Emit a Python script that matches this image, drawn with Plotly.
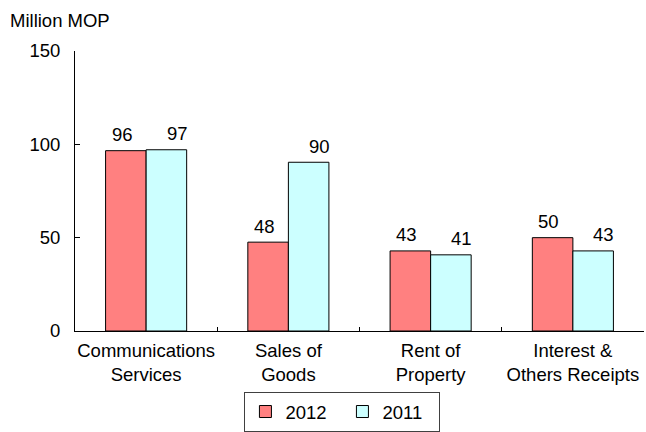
import plotly.graph_objects as go

categories = ["Communications<br>Services", "Sales of<br>Goods", "Rent of<br>Property", "Interest &<br>Others Receipts"]
values_2012 = [96.6, 47.6, 42.9, 50.0]
values_2011 = [97.1, 90.4, 40.8, 42.9]
labels_2012 = ["96", "48", "43", "50"]
labels_2011 = ["97", "90", "41", "43"]

FONT = dict(family="Liberation Sans, Arial, sans-serif", size=18.5, color="black")

fig = go.Figure()
fig.add_trace(go.Bar(
    x=categories, y=values_2012, name="2012",
    marker=dict(color="#FF8080", line=dict(color="black", width=1)),
))
fig.add_trace(go.Bar(
    x=categories, y=values_2011, name="2011",
    marker=dict(color="#CCFFFF", line=dict(color="black", width=1)),
))

# data labels, offset like the original spreadsheet chart
for cat, v, t in zip(categories, values_2012, labels_2012):
    fig.add_annotation(x=cat, y=v, text=t, showarrow=False, xshift=-24, yshift=16,
                       yanchor="middle", font=FONT)
for cat, v, t in zip(categories, values_2011, labels_2011):
    fig.add_annotation(x=cat, y=v, text=t, showarrow=False, xshift=31, yshift=16,
                       yanchor="middle", font=FONT)

fig.add_annotation(text="Million MOP", xref="paper", yref="paper", x=-0.118, y=1.11,
                   xanchor="left", yanchor="middle", showarrow=False, font=FONT)

fig.update_layout(
    width=646, height=432,
    margin=dict(l=75, r=2, t=51, b=101),
    paper_bgcolor="white", plot_bgcolor="white",
    font=FONT,
    barmode="group", bargap=0.43, bargroupgap=0,
    showlegend=True,
    # legend box runs off the bottom edge, as in the original
    legend=dict(orientation="h", x=0.47, xanchor="center",
                yref="container", y=-0.021, yanchor="bottom",
                bordercolor="#404040", borderwidth=1, bgcolor="white", font=FONT,
                itemwidth=30, entrywidth=52),
)
fig.update_xaxes(showline=True, linecolor="black", linewidth=1, ticks="inside",
                 tickson="boundaries", ticklen=4, tickcolor="black", showgrid=False,
                 tickangle=0, automargin=False, ticklabelstandoff=3)
fig.update_yaxes(range=[0, 150], tickvals=[0, 50, 100, 150], showline=True, linecolor="black",
                 linewidth=1, ticks="inside", ticklen=5, tickcolor="black", showgrid=False,
                 zeroline=False, ticklabelstandoff=10, automargin=False)

# page has a default 8px body margin; remove it so the figure sits at the corner
fig.write_html("out.html", config={"displayModeBar": False},
               post_script="document.body.style.margin='0';")
